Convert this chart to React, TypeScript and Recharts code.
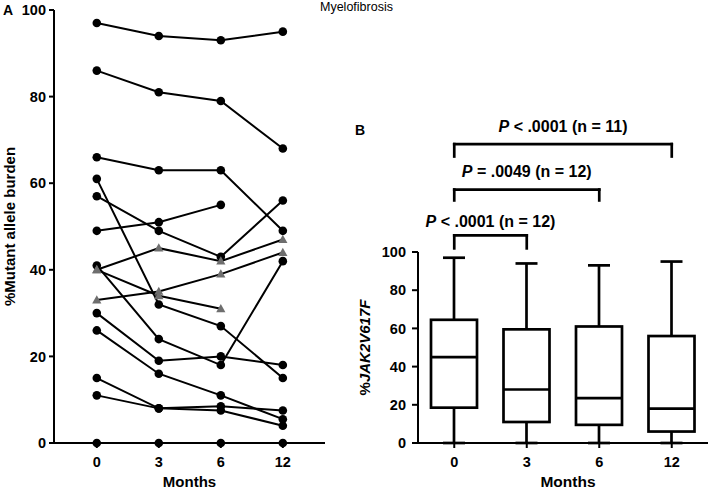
import React from "react";
import { ComposedChart, LineChart, Line, Bar, XAxis, YAxis, ReferenceLine } from "recharts";

const FONT = "'Liberation Sans', Arial, Helvetica, sans-serif";

const months = ["0", "3", "6", "12"];
const monthSlots = [0, 1, 2, 3];
const burdenTicks = [0, 20, 40, 60, 80, 100];

// panel A: one array per patient, % mutant allele burden (null = not sampled)
const pt01 = [97, 94, 93, 95];
const pt02 = [86, 81, 79, 68];
const pt03 = [66, 63, 63, 49];
const pt04 = [61, 32, 27, 15];
const pt05 = [57, 49, 43, 56];
const pt06 = [49, 51, 55, null];
const pt07 = [41, 24, 18, 42];
const pt08 = [30, 19, 20, 18];
const pt09 = [26, 16, 11, 5.5];
const pt10 = [15, 8, 8.5, 7.5];
const pt11 = [11, 8, 7.5, 4];
const pt12 = [0, 0, 0, 0];
// patients drawn with grey triangles
const pt13 = [40, 45, 42, 47];
const pt14 = [33, 35, 39, 44];
const pt15 = [40, 34, 31, null];

const circlePatients: Record<string, (number | null)[]> = {
  pt01, pt02, pt03, pt04, pt05, pt06, pt07, pt08, pt09, pt10, pt11, pt12,
};
const trianglePatients: Record<string, (number | null)[]> = { pt13, pt14, pt15 };

const lineRows = monthSlots.map((slot, i) => {
  const row: Record<string, number | null> = { slot };
  Object.entries({ ...circlePatients, ...trianglePatients }).forEach(([k, v]) => {
    row[k] = v[i];
  });
  return row;
});

// panel B: box plot summary per time point
const boxMin = [0, 0, 0, 0];
const boxQ1 = [18.5, 11, 9.5, 6];
const boxMedian = [45, 28, 23.5, 18];
const boxQ3 = [64.5, 59.5, 61, 56];
const boxMax = [97, 94, 93, 95];

const boxRows = months.map((month, i) => ({
  month,
  min: boxMin[i],
  q1: boxQ1[i],
  median: boxMedian[i],
  q3: boxQ3[i],
  max: boxMax[i],
}));

// significance brackets
const pFrom = ["0", "0", "0"];
const pTo = ["12", "6", "3"];
const pSign = ["<", "=", "<"];
const pValue = [".0001", ".0049", ".0001"];
const pN = [11, 12, 12];
// bracket geometry, in panel B y units
const bracketTop = [156.5, 132.7, 108.7];
const bracketFoot = [150, 127, 101.9];
const bracketGap = [12.5, 12.5, 8.5];

const tickStyle = { fill: "#000", fontSize: 14.5, fontWeight: 700, fontFamily: FONT };
const axisStroke = { stroke: "#000", strokeWidth: 2 };

function TriangleDot(props: any) {
  const { cx, cy, index } = props;
  if (cx == null || cy == null) return <g key={`t-${index}`} />;
  return (
    <polygon
      key={`t-${index}`}
      points={`${cx},${cy - 4.8} ${cx - 4.6},${cy + 3.4} ${cx + 4.6},${cy + 3.4}`}
      fill="#6e6e6e"
    />
  );
}

function BoxShape(props: any) {
  const { x, y, width, height, payload } = props;
  const lo = payload.min;
  const hi = payload.max;
  const toY = (v: number) => y + (height * (hi - v)) / (hi - lo);
  const cx = x + width / 2;
  const cap = 11;
  return (
    <g stroke="#000" strokeWidth={2.7} fill="none">
      <line x1={cx} x2={cx} y1={toY(hi)} y2={toY(payload.q3)} />
      <line x1={cx} x2={cx} y1={toY(payload.q1)} y2={toY(lo)} />
      <line x1={cx - cap} x2={cx + cap} y1={toY(hi)} y2={toY(hi)} />
      <line x1={cx - cap} x2={cx + cap} y1={toY(lo)} y2={toY(lo)} />
      <rect
        x={x}
        y={toY(payload.q3)}
        width={width}
        height={toY(payload.q1) - toY(payload.q3)}
        fill="#fff"
      />
      <line x1={x} x2={x + width} y1={toY(payload.median)} y2={toY(payload.median)} />
    </g>
  );
}

const monthsLabel = (dx: number, size: number) => (p: any) => {
  const vb = p.viewBox;
  return (
    <text
      x={vb.x + vb.width / 2 + dx}
      y={vb.y + vb.height - 3}
      textAnchor="middle"
      fontFamily={FONT}
      fontSize={size}
      fontWeight={700}
      fill="#000"
    >
      Months
    </text>
  );
};

function PanelA() {
  return (
    <LineChart width={340} height={490} data={lineRows} margin={{ top: 10, right: 15, left: 0, bottom: 0 }}>
      <XAxis
        dataKey="slot"
        type="number"
        domain={[-0.69, 3.68]}
        ticks={monthSlots}
        tickFormatter={(v: number) => months[v]}
        height={47}
        tickSize={5}
        tickMargin={9}
        tick={tickStyle}
        axisLine={axisStroke}
        tickLine={axisStroke}
        label={monthsLabel(0, 15)}
      />
      <YAxis
        domain={[0, 100]}
        ticks={burdenTicks}
        width={54}
        tickSize={5}
        tickMargin={3}
        tick={tickStyle}
        axisLine={axisStroke}
        tickLine={axisStroke}
        label={(p: any) => {
          const vb = p.viewBox;
          return (
            <text
              transform={`translate(${vb.x + 15},${vb.y + vb.height / 2}) rotate(-90)`}
              textAnchor="middle"
              fontFamily={FONT}
              fontSize={15}
              fontWeight={700}
              fill="#000"
            >
              %Mutant allele burden
            </text>
          );
        }}
      />
      {Object.keys(circlePatients).map((k) => (
        <Line
          key={k}
          dataKey={k}
          type="linear"
          stroke="#000"
          strokeWidth={2}
          dot={{ r: 4.3, fill: "#000", stroke: "none" }}
          isAnimationActive={false}
        />
      ))}
      {Object.keys(trianglePatients).map((k) => (
        <Line
          key={k}
          dataKey={k}
          type="linear"
          stroke="#000"
          strokeWidth={2}
          dot={TriangleDot}
          isAnimationActive={false}
        />
      ))}
    </LineChart>
  );
}

function PanelB() {
  const brackets: React.ReactNode[] = [];
  pFrom.forEach((from, i) => {
    const to = pTo[i];
    const seg = { stroke: "#000", strokeWidth: 2.7, strokeLinecap: "square" as const, ifOverflow: "visible" as const };
    brackets.push(
      <ReferenceLine
        key={`bh-${i}`}
        {...seg}
        segment={[{ x: from, y: bracketTop[i] }, { x: to, y: bracketTop[i] }]}
        label={(p: any) => {
          const vb = p.viewBox;
          return (
            <text
              x={vb.x + vb.width / 2}
              y={vb.y - bracketGap[i]}
              textAnchor="middle"
              fontFamily={FONT}
              fontSize={16}
              fontWeight={700}
              fill="#000"
            >
              <tspan fontStyle="italic">P</tspan>
              {` ${pSign[i]} ${pValue[i]} (n = ${pN[i]})`}
            </text>
          );
        }}
      />,
      <ReferenceLine
        key={`bl-${i}`}
        {...seg}
        segment={[{ x: from, y: bracketTop[i] }, { x: from, y: bracketFoot[i] }]}
      />,
      <ReferenceLine
        key={`br-${i}`}
        {...seg}
        segment={[{ x: to, y: bracketTop[i] }, { x: to, y: bracketFoot[i] }]}
      />
    );
  });

  return (
    <ComposedChart width={369} height={490} data={boxRows} margin={{ top: 252, right: 1, left: 0, bottom: 0 }}>
      <XAxis
        dataKey="month"
        type="category"
        height={47}
        tickSize={5}
        tickMargin={9}
        tick={tickStyle}
        axisLine={axisStroke}
        tickLine={axisStroke}
        label={monthsLabel(5, 15.5)}
      />
      <YAxis
        domain={[0, 100]}
        ticks={burdenTicks}
        width={78}
        tickSize={6}
        tickMargin={6}
        tick={tickStyle}
        axisLine={axisStroke}
        tickLine={axisStroke}
        label={(p: any) => {
          const vb = p.viewBox;
          return (
            <text
              transform={`translate(${vb.x + 30},${vb.y + vb.height / 2}) rotate(-90)`}
              textAnchor="middle"
              fontFamily={FONT}
              fontSize={15}
              fontWeight={700}
              fill="#000"
            >
              %<tspan fontStyle="italic">JAK2V617F</tspan>
            </text>
          );
        }}
      />
      <Bar
        dataKey={(d: any) => [d.min, d.max]}
        barSize={46}
        shape={BoxShape}
        isAnimationActive={false}
      />
      {brackets}
    </ComposedChart>
  );
}

export default function App() {
  return (
    <div style={{ position: "absolute", left: 0, top: 0, width: 709, height: 490, background: "#fff" }}>
      <div style={{ position: "absolute", left: 0, top: 0 }}>
        <PanelA />
      </div>
      <div style={{ position: "absolute", left: 340, top: 0 }}>
        <PanelB />
      </div>
      <svg
        width={709}
        height={490}
        style={{ position: "absolute", left: 0, top: 0, pointerEvents: "none" }}
      >
        <text x={3} y={15} fontFamily={FONT} fontSize={14} fontWeight={700}>A</text>
        <text x={320} y={11} fontFamily={FONT} fontSize={12.5}>Myelofibrosis</text>
        <text x={355} y={135} fontFamily={FONT} fontSize={14} fontWeight={700}>B</text>
      </svg>
    </div>
  );
}
